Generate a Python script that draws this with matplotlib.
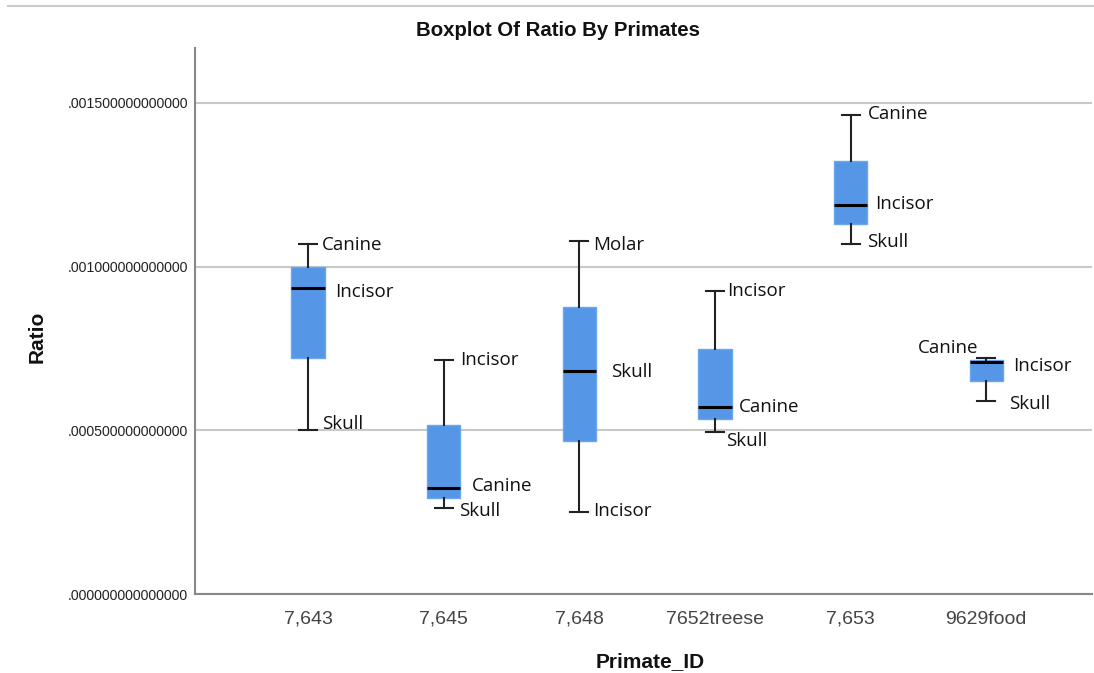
import matplotlib
matplotlib.use("Agg")
import matplotlib.pyplot as plt
from matplotlib.lines import Line2D

# categories on the x axis
primate_ids = ["7,643", "7,645", "7,648", "7652treese", "7,653", "9629food"]

# box statistics
whisker_low = [0.000501, 0.000263, 0.000250, 0.000495, 0.001069, 0.000590]
q1_values = [0.000721, 0.000293, 0.000467, 0.000535, 0.001130, 0.000651]
medians = [0.000935, 0.000324, 0.000681, 0.000571, 0.001188, 0.000709]
q3_values = [0.000999, 0.000516, 0.000877, 0.000748, 0.001323, 0.000716]
whisker_high = [0.001069, 0.000715, 0.001078, 0.000925, 0.001463, 0.000721]

# case labels shown next to whisker ends and medians
top_labels = ["Canine", "Incisor", "Molar", "Incisor", "Canine", "Canine"]
mid_labels = ["Incisor", "Canine", "Skull", "Canine", "Incisor", "Incisor"]
low_labels = ["Skull", "Skull", "Incisor", "Skull", "Skull", "Skull"]

# label offsets in pixels (dx, dy) for top / mid / low label
top_off = [(14, -1), (16, 0), (14, -4), (12, 0), (17, 1), (-8, 10)]
mid_off = [(27, -4), (28, 2), (32, -1), (24, 0), (25, 1), (27, -4)]
low_off = [(14, 6), (15, -3), (14, 1), (11, -9), (17, 2), (23, -3)]

box_color = "#5596e6"
label_font = ["Open Sans", "DejaVu Sans"]

fig = plt.figure(figsize=(10.94, 6.73), dpi=100)
ax = fig.add_axes([195 / 1094, 79 / 673, 897 / 1094, 546 / 673])

stats = []
for i in range(len(primate_ids)):
    stats.append({
        "whislo": whisker_low[i], "q1": q1_values[i], "med": medians[i],
        "q3": q3_values[i], "whishi": whisker_high[i], "fliers": [],
    })

ax.bxp(stats, positions=list(range(len(primate_ids))), widths=0.245,
       capwidths=0.133, patch_artist=True, showfliers=False,
       boxprops=dict(facecolor=box_color, edgecolor="#6aa6ee", linewidth=1),
       whiskerprops=dict(color="#222222", linewidth=1.5),
       capprops=dict(color="#222222", linewidth=1.5),
       medianprops=dict(color="black", linewidth=2.2))

for i in range(len(primate_ids)):
    ha_top = "right" if top_off[i][0] < 0 else "left"
    ax.annotate(top_labels[i], (i, whisker_high[i]), xytext=top_off[i],
                textcoords="offset pixels", ha=ha_top, va="center",
                fontsize=13.5, family=label_font, color="#111111")
    ax.annotate(mid_labels[i], (i, medians[i]), xytext=mid_off[i],
                textcoords="offset pixels", ha="left", va="center",
                fontsize=13.5, family=label_font, color="#111111")
    ax.annotate(low_labels[i], (i, whisker_low[i]), xytext=low_off[i],
                textcoords="offset pixels", ha="left", va="center",
                fontsize=13.5, family=label_font, color="#111111")

ax.set_xlim(-0.833, 5.78)
ax.set_ylim(0, 0.001668)
ax.set_yticks([0, 0.0005, 0.0010, 0.0015])
ax.set_yticklabels([("%.15f" % v)[1:] for v in [0, 0.0005, 0.0010, 0.0015]],
                   fontsize=10.2, family="Liberation Sans", color="#222222")
ax.set_xticks(range(len(primate_ids)))
ax.set_xticklabels(primate_ids, fontsize=14, family="Liberation Sans", color="#444444")
ax.tick_params(axis="y", length=0, pad=5)
ax.tick_params(axis="x", length=0, pad=12)

ax.yaxis.grid(True, color="#c8c8c8", linewidth=1.5)
ax.set_axisbelow(True)
for side in ["top", "right"]:
    ax.spines[side].set_visible(False)
for side in ["left", "bottom"]:
    ax.spines[side].set_color("#888888")
    ax.spines[side].set_linewidth(1.5)

fig.text(558 / 1094, 1 - 31 / 673, "Boxplot Of Ratio By Primates", ha="center", va="center",
         fontsize=14.7, fontweight="bold", family="Liberation Sans", color="#111111")
fig.text(650 / 1094, 1 - 662 / 673, "Primate_ID", ha="center", va="center",
         fontsize=15, fontweight="bold", family="Liberation Sans", color="#111111")
fig.text(37 / 1094, 1 - 337 / 673, "Ratio", ha="center", va="center", rotation=90,
         fontsize=15, fontweight="bold", family="Liberation Sans", color="#111111")

# thin separator line across the top of the picture
fig.add_artist(Line2D([8 / 1094, 1], [1 - 6 / 673, 1 - 6 / 673], color="#cccccc",
                      linewidth=1.5, transform=fig.transFigure))

fig.savefig("out.png", dpi=100)
